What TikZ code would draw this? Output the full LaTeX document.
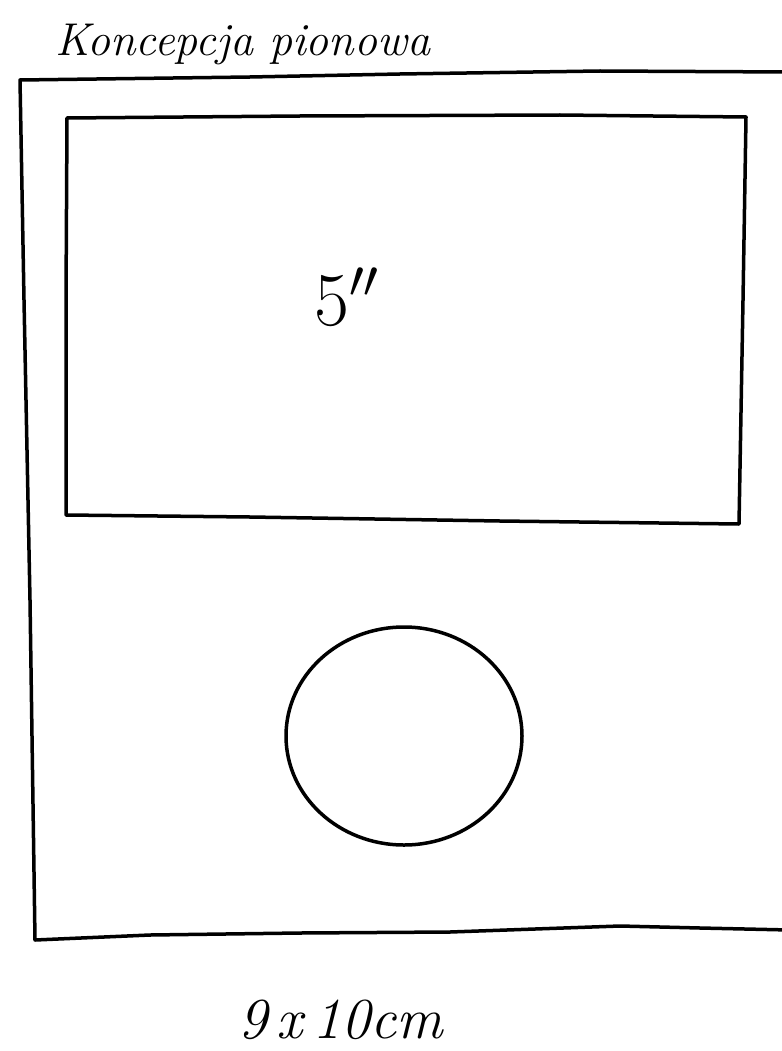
\documentclass[tikz,border=0pt]{standalone}
\usepackage{fix-cm}
\begin{document}
\begin{tikzpicture}[x=1pt,y=-1pt,
  pen/.style={line width=3.5pt,line join=round,line cap=round,black},
  hand/.style={inner sep=0pt,anchor=base west}]
\useasboundingbox (0,0) rectangle (781,1051);
% outer frame
\draw[pen] (790,72) -- (600,71) -- (400,74) -- (250,77) -- (20,80) -- (24,300) -- (30,600) -- (35,940)
  -- (150,935) -- (300,933) -- (450,932) -- (620,926) -- (700,928) -- (790,930);
% screen rectangle
\draw[pen] (67,118) -- (300,116) -- (560,115) -- (746,117) -- (743,300) -- (739,524)
  -- (500,521) -- (250,517) -- (66,515) -- (66,300) -- cycle;
% circle button
\draw[pen] (404,736) ellipse [x radius=118, y radius=109];
% texts
\node[hand,font=\itshape\fontsize{46}{52}\selectfont] (title) at (55,56) {Koncepcja pionowa};
\node[hand,font=\fontsize{76}{84}\selectfont] (size) at (314,325) {5$''$};
\node[hand,font=\itshape\fontsize{58}{66}\selectfont] (dims) at (238,1038) {9\,x\,10cm};
\end{tikzpicture}
\end{document}
